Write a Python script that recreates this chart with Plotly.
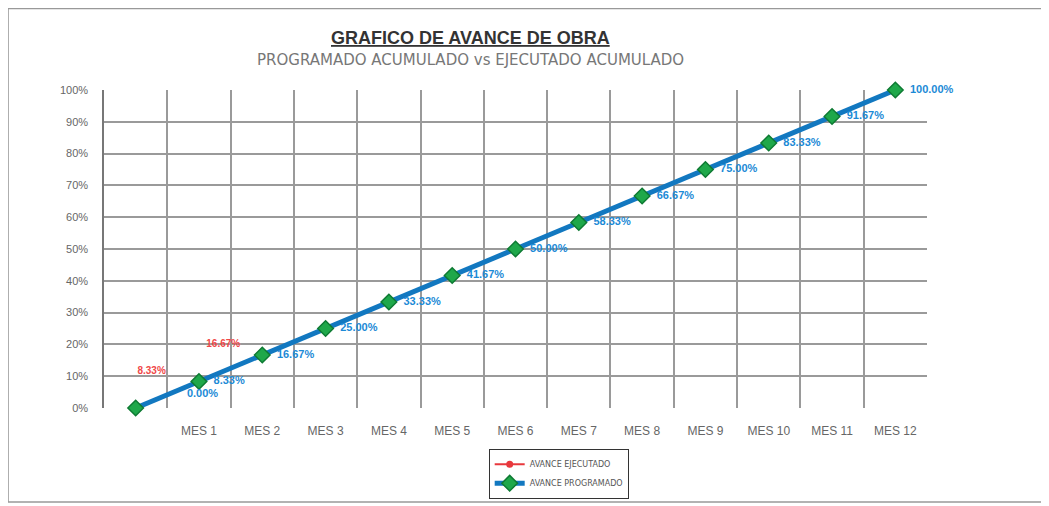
import plotly.graph_objects as go

categories = ["", "MES 1", "MES 2", "MES 3", "MES 4", "MES 5", "MES 6",
              "MES 7", "MES 8", "MES 9", "MES 10", "MES 11", "MES 12"]
programado = [0.0, 8.33, 16.67, 25.00, 33.33, 41.67, 50.00,
              58.33, 66.67, 75.00, 83.33, 91.67, 100.00]
ejecutado = [0.0, 8.33, 16.67]
ejecutado_labels = ["", "8.33%", "16.67%"]
y_ticks = [0, 10, 20, 30, 40, 50, 60, 70, 80, 90, 100]

xpos = list(range(len(categories)))
prog_text = ["              0.00%"] + [f"  {v:.2f}%" for v in programado[1:]]
prog_pos = ["top right"] + ["middle right"] * (len(programado) - 1)
ejec_text = ["", ejecutado_labels[1] + "          ", ejecutado_labels[2] + "      "]

fig = go.Figure()
fig.add_trace(go.Scatter(
    x=xpos[:len(ejecutado)], y=ejecutado, mode="lines+markers+text",
    name="AVANCE EJECUTADO",
    line=dict(color="#E8383D", width=2),
    marker=dict(symbol="circle", size=7, color="#E8383D"),
    text=ejec_text, textposition="top left", cliponaxis=False,
    textfont=dict(color="#F04848", size=10, family="Arial", weight="bold"),
))
fig.add_trace(go.Scatter(
    x=xpos, y=programado, mode="lines+markers+text",
    name="AVANCE PROGRAMADO",
    line=dict(color="#1278C0", width=5),
    marker=dict(symbol="diamond", size=12, color="#1FA84A",
                line=dict(color="#0E7A33", width=1.5)),
    text=prog_text, textposition=prog_pos, cliponaxis=False,
    textfont=dict(color="#1C8AD6", size=11, family="Arial", weight="bold"),
))

fig.update_layout(
    width=1041, height=498,
    margin=dict(l=96, r=122, t=82, b=98, autoexpand=False),
    paper_bgcolor="white", plot_bgcolor="white",
    showlegend=True,
    legend=dict(xref="container", yref="container", x=0.529, y=0.115,
                xanchor="center", yanchor="top",
                bordercolor="#333", borderwidth=1, bgcolor="white",
                font=dict(size=8, color="#555", family="DejaVu Sans"),
                tracegroupgap=0, itemwidth=30),
    font=dict(family="Arial", color="#666"),
)
fig.update_xaxes(
    range=[-0.5, 12.5], tickmode="array", tickvals=xpos[1:], ticktext=categories[1:],
    showgrid=False, zeroline=False, showline=False,
    tickfont=dict(size=12, color="#666"), ticklabelstandoff=14,
    minor=dict(tickmode="linear", tick0=0.5, dtick=1, showgrid=True,
               gridcolor="#9a9a9a", gridwidth=1.5),
)
fig.update_yaxes(
    range=[0, 100], tickmode="array", tickvals=y_ticks,
    ticktext=[f"{v}%" for v in y_ticks],
    showgrid=True, gridcolor="#9a9a9a", gridwidth=1.5,
    zeroline=False, showline=True, linecolor="#777", linewidth=1.5,
    tickfont=dict(size=11, color="#666"), ticks="", ticklabelstandoff=12,
)

fig.add_annotation(text="<b><u>GRAFICO DE AVANCE DE OBRA</u></b>",
                   xref="paper", yref="paper", x=0.445, y=1.20,
                   showarrow=False, font=dict(size=18, color="#333", family="Arial"))
fig.add_annotation(text="PROGRAMADO ACUMULADO vs EJECUTADO ACUMULADO",
                   xref="paper", yref="paper", x=0.445, y=1.13,
                   showarrow=False, font=dict(size=15, color="#777", family="DejaVu Sans"))

fig.add_shape(type="rect", xref="paper", yref="paper",
              x0=-0.1166, x1=1.1446, y0=-0.2956, y1=1.256,
              line=dict(color="#999", width=1.5))

fig.write_html("out.html")
